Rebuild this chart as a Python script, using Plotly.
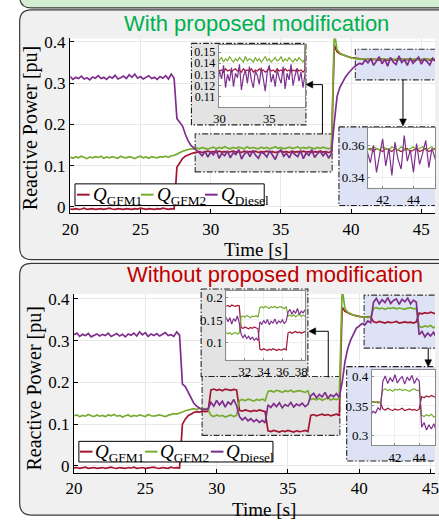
import numpy as np
import plotly.graph_objects as go

# ---------------- data ----------------
t = np.round(np.arange(20.0, 46.0001, 0.2), 1)   # sample times [s]

q_gfm1_with = [
    -0.005, -0.006, -0.004, -0.006, -0.005, -0.003, -0.006, -0.005, -0.004, -0.006,
    -0.005, -0.004, -0.006, -0.005, -0.003, -0.005, -0.006, -0.004, -0.005, -0.006,
    -0.004, -0.005, -0.006, -0.004, -0.005, -0.003, -0.005, -0.006, -0.004, -0.005,
    -0.006, -0.004, -0.005, -0.003, -0.005, -0.006, -0.004, -0.005, 0.096, 0.108,
    0.117, 0.123, 0.127, 0.129, 0.131, 0.132, 0.134, 0.132, 0.133, 0.135,
    0.133, 0.134, 0.132, 0.135, 0.133, 0.134, 0.132, 0.134, 0.135, 0.133,
    0.134, 0.132, 0.135, 0.133, 0.134, 0.133, 0.135, 0.132, 0.134, 0.133,
    0.135, 0.133, 0.134, 0.132, 0.134, 0.135, 0.133, 0.134, 0.132, 0.135,
    0.133, 0.134, 0.132, 0.135, 0.133, 0.134, 0.132, 0.134, 0.133, 0.135,
    0.133, 0.134, 0.132, 0.134, 0.392, 0.376, 0.371, 0.368, 0.366, 0.364,
    0.362, 0.361, 0.360, 0.359, 0.358, 0.357, 0.358, 0.356, 0.358, 0.357,
    0.356, 0.358, 0.357, 0.356, 0.358, 0.357, 0.356, 0.357, 0.358, 0.356,
    0.357, 0.358, 0.356, 0.357, 0.358, 0.356, 0.357, 0.358, 0.356, 0.357,
    0.357]
q_gfm2_with = [
    0.121, 0.118, 0.122, 0.119, 0.123, 0.120, 0.117, 0.121, 0.119, 0.122,
    0.120, 0.123, 0.118, 0.121, 0.119, 0.122, 0.120, 0.118, 0.123, 0.120,
    0.119, 0.122, 0.120, 0.117, 0.121, 0.123, 0.119, 0.121, 0.118, 0.122,
    0.120, 0.119, 0.122, 0.121, 0.123, 0.120, 0.124, 0.125, 0.128, 0.132,
    0.135, 0.137, 0.139, 0.141, 0.140, 0.143, 0.141, 0.144, 0.142, 0.140,
    0.143, 0.145, 0.141, 0.144, 0.142, 0.146, 0.143, 0.141, 0.144, 0.142,
    0.145, 0.143, 0.141, 0.146, 0.142, 0.144, 0.143, 0.141, 0.145, 0.142,
    0.144, 0.141, 0.143, 0.146, 0.142, 0.144, 0.141, 0.143, 0.145, 0.142,
    0.143, 0.146, 0.141, 0.144, 0.142, 0.145, 0.143, 0.141, 0.144, 0.142,
    0.145, 0.143, 0.141, 0.144, 0.425, 0.381, 0.373, 0.369, 0.366, 0.363,
    0.361, 0.360, 0.359, 0.358, 0.359, 0.358, 0.357, 0.359, 0.358, 0.357,
    0.359, 0.358, 0.357, 0.359, 0.358, 0.357, 0.359, 0.358, 0.357, 0.358,
    0.359, 0.357, 0.358, 0.359, 0.357, 0.358, 0.359, 0.357, 0.358, 0.359,
    0.358]
q_diesel_with = [
    0.316, 0.309, 0.314, 0.311, 0.317, 0.310, 0.313, 0.308, 0.315, 0.312,
    0.318, 0.311, 0.314, 0.309, 0.316, 0.312, 0.319, 0.310, 0.313, 0.317,
    0.311, 0.320, 0.314, 0.322, 0.312, 0.316, 0.310, 0.315, 0.318, 0.311,
    0.314, 0.309, 0.316, 0.312, 0.318, 0.310, 0.322, 0.312, 0.214, 0.205,
    0.196, 0.176, 0.160, 0.149, 0.142, 0.137, 0.131, 0.124, 0.135, 0.121,
    0.133, 0.126, 0.138, 0.118, 0.130, 0.124, 0.136, 0.119, 0.131, 0.127,
    0.139, 0.116, 0.128, 0.134, 0.122, 0.137, 0.125, 0.118, 0.133, 0.129,
    0.121, 0.136, 0.126, 0.115, 0.132, 0.138, 0.123, 0.130, 0.119, 0.134,
    0.127, 0.122, 0.137, 0.117, 0.131, 0.125, 0.139, 0.120, 0.129, 0.135,
    0.124, 0.132, 0.118, 0.130, 0.205, 0.268, 0.290, 0.303, 0.315, 0.324,
    0.332, 0.339, 0.344, 0.348, 0.346, 0.356, 0.349, 0.360, 0.343, 0.354,
    0.364, 0.347, 0.358, 0.341, 0.362, 0.351, 0.345, 0.366, 0.350, 0.357,
    0.343, 0.361, 0.348, 0.355, 0.363, 0.346, 0.358, 0.352, 0.344, 0.360,
    0.353]

q_gfm1_without = [
    -0.005, -0.004, -0.006, -0.005, -0.003, -0.006, -0.005, -0.004, -0.006, -0.005,
    -0.004, -0.006, -0.005, -0.003, -0.005, -0.006, -0.004, -0.005, -0.006, -0.004,
    -0.005, -0.003, -0.006, -0.005, -0.004, -0.006, -0.005, -0.004, -0.003, -0.005,
    -0.006, -0.004, -0.005, -0.006, -0.003, -0.005, -0.004, -0.005, 0.100, 0.112,
    0.120, 0.125, 0.128, 0.130, 0.129, 0.131, 0.130, 0.131, 0.182, 0.184,
    0.181, 0.183, 0.180, 0.184, 0.182, 0.181, 0.183, 0.182, 0.133, 0.131,
    0.134, 0.132, 0.130, 0.133, 0.131, 0.134, 0.132, 0.130, 0.084, 0.082,
    0.085, 0.083, 0.081, 0.084, 0.082, 0.085, 0.083, 0.081, 0.084, 0.082,
    0.083, 0.085, 0.082, 0.121, 0.123, 0.120, 0.122, 0.124, 0.121, 0.123,
    0.120, 0.122, 0.124, 0.121, 0.380, 0.370, 0.366, 0.363, 0.361, 0.359,
    0.358, 0.357, 0.356, 0.357, 0.356, 0.345, 0.343, 0.346, 0.344, 0.342,
    0.345, 0.343, 0.344, 0.346, 0.342, 0.344, 0.345, 0.343, 0.344, 0.342,
    0.345, 0.366, 0.364, 0.367, 0.365, 0.368, 0.366, 0.364, 0.367, 0.365,
    0.366]
q_gfm2_without = [
    0.120, 0.122, 0.118, 0.121, 0.119, 0.123, 0.120, 0.118, 0.122, 0.119,
    0.121, 0.118, 0.122, 0.120, 0.123, 0.119, 0.121, 0.117, 0.120, 0.122,
    0.118, 0.121, 0.119, 0.122, 0.120, 0.118, 0.123, 0.120, 0.119, 0.121,
    0.122, 0.120, 0.118, 0.121, 0.123, 0.125, 0.124, 0.126, 0.129, 0.132,
    0.134, 0.136, 0.137, 0.135, 0.138, 0.136, 0.137, 0.135, 0.121, 0.118,
    0.122, 0.119, 0.121, 0.117, 0.120, 0.122, 0.118, 0.121, 0.157, 0.159,
    0.156, 0.160, 0.158, 0.155, 0.159, 0.157, 0.160, 0.156, 0.178, 0.180,
    0.177, 0.181, 0.179, 0.176, 0.180, 0.178, 0.181, 0.177, 0.179, 0.180,
    0.178, 0.176, 0.180, 0.159, 0.161, 0.158, 0.162, 0.157, 0.160, 0.163,
    0.158, 0.161, 0.159, 0.162, 0.425, 0.376, 0.368, 0.364, 0.361, 0.359,
    0.357, 0.356, 0.357, 0.355, 0.356, 0.377, 0.379, 0.376, 0.378, 0.375,
    0.378, 0.377, 0.379, 0.376, 0.378, 0.377, 0.375, 0.378, 0.379, 0.376,
    0.377, 0.334, 0.332, 0.335, 0.333, 0.336, 0.331, 0.334, 0.335, 0.332,
    0.334]
q_diesel_without = [
    0.314, 0.318, 0.310, 0.315, 0.312, 0.317, 0.309, 0.313, 0.316, 0.311,
    0.315, 0.312, 0.318, 0.310, 0.314, 0.317, 0.311, 0.315, 0.309, 0.316,
    0.313, 0.318, 0.311, 0.321, 0.314, 0.319, 0.310, 0.316, 0.312, 0.317,
    0.311, 0.315, 0.319, 0.312, 0.314, 0.310, 0.321, 0.313, 0.196, 0.190,
    0.176, 0.160, 0.150, 0.143, 0.138, 0.136, 0.135, 0.137, 0.152, 0.143,
    0.157, 0.146, 0.155, 0.141, 0.153, 0.147, 0.159, 0.144, 0.118, 0.110,
    0.116, 0.108, 0.113, 0.106, 0.111, 0.104, 0.109, 0.103, 0.146, 0.140,
    0.149, 0.142, 0.151, 0.139, 0.147, 0.143, 0.152, 0.141, 0.148, 0.144,
    0.150, 0.142, 0.147, 0.168, 0.174, 0.163, 0.171, 0.165, 0.176, 0.162,
    0.170, 0.166, 0.173, 0.164, 0.200, 0.250, 0.282, 0.302, 0.316, 0.330,
    0.335, 0.341, 0.338, 0.347, 0.343, 0.392, 0.401, 0.388, 0.398, 0.391,
    0.403, 0.389, 0.396, 0.400, 0.387, 0.399, 0.393, 0.402, 0.388, 0.397,
    0.392, 0.314, 0.322, 0.309, 0.318, 0.311, 0.320, 0.308, 0.316, 0.312,
    0.319]

series_labels = ["<i>Q</i><sub>GFM1</sub>", "<i>Q</i><sub>GFM2</sub>", "<i>Q</i><sub>Diesel</sub>"]
panel_titles = ["With proposed modification", "Without proposed modification"]
x_ticks_main = [20, 25, 30, 35, 40, 45]
y_ticks_main = [0, 0.1, 0.2, 0.3, 0.4]
y_ticktext_main = ["0", "0.1", "0.2", "0.3", "0.4"]
inset_t1_xt = [30, 35]
inset_t1_yt = [0.11, 0.12, 0.13, 0.14, 0.15]
inset_t2_xt = [42, 44]
inset_t2_yt = [0.34, 0.36]
inset_b1_xt = [32, 34, 36, 38]
inset_b1_yt = [0.1, 0.15, 0.2]
inset_b2_xt = [42, 44]
inset_b2_yt = [0.3, 0.35, 0.4]

# ---------------- styling ----------------
W, H = 439, 520
COLORS = ["#a2142f", "#77ac30", "#7e2f8e"]
SERIF = "Liberation Serif"
SANS = "Liberation Sans"
DASHDOT = "6px,2px,1.5px,2px"


def px(x):
    return x / W


def py(y):
    return 1 - y / H


layout = dict(
    width=W, height=H, margin=dict(l=0, r=0, t=0, b=0, pad=0),
    paper_bgcolor="white", plot_bgcolor="rgba(0,0,0,0)",
    showlegend=False, shapes=[], annotations=[],
)


def ax_names(n):
    return ("xaxis" if n == 1 else f"xaxis{n}", "yaxis" if n == 1 else f"yaxis{n}",
            "x" if n == 1 else f"x{n}", "y" if n == 1 else f"y{n}")


def add_axes(n, xpx, ypx, xr, yr, xa_kw, ya_kw):
    xa, ya, xn, yn = ax_names(n)
    layout[xa] = dict(domain=[max(px(xpx[0]), 0), min(px(xpx[1]), 1)], range=xr,
                      anchor=yn, **xa_kw)
    layout[ya] = dict(domain=[py(ypx[1]), py(ypx[0])], range=yr, anchor=xn, **ya_kw)


main_common = dict(showline=True, linecolor="black", linewidth=1.3, ticks="inside",
                   ticklen=4, tickcolor="black", showgrid=True, gridcolor="#e9e9e9",
                   zeroline=False, tickfont=dict(family=SERIF, size=17, color="black"),
                   ticklabeloverflow="allow")


def inset_style(size=13):
    return dict(showline=True, mirror=True, linecolor="#8a8a8a", linewidth=1,
                ticks="inside", ticklen=2, tickcolor="#8a8a8a", showgrid=True,
                gridcolor="#eeeeee", zeroline=False,
                tickfont=dict(family=SERIF, size=size, color="black"),
                ticklabeloverflow="allow")


box_common = dict(visible=False, fixedrange=True)

# main axes
add_axes(1, (63, W), (33, 211), [20, 45.97], [-0.0155, 0.4083],
         dict(main_common, tickvals=x_ticks_main),
         dict(main_common, tickvals=y_ticks_main, ticktext=y_ticktext_main))
add_axes(2, (67, W), (293, 475), [20, 45.31], [-0.0165, 0.4118],
         dict(main_common, tickvals=x_ticks_main),
         dict(main_common, tickvals=y_ticks_main, ticktext=y_ticktext_main))

traces = []


def add_box(n, x0, y0, x1, y1, fill, inner, pad=2):
    xr = [x0 - pad, min(x1 + pad, W)]
    add_axes(n, (x0 - pad, x1 + pad), (y0 - pad, y1 + pad), xr, [y1 + pad, y0 - pad],
             box_common, box_common)
    xn, yn = ax_names(n)[2:]
    rx, ry = [x0, x1, x1, x0, x0], [y0, y0, y1, y1, y0]
    traces.append(go.Scatter(x=rx, y=ry, mode="lines", fill="toself", fillcolor=fill,
                             line=dict(width=0), xaxis=xn, yaxis=yn, hoverinfo="skip"))
    ix0, iy0, ix1, iy1 = inner
    traces.append(go.Scatter(x=[ix0, ix1, ix1, ix0, ix0], y=[iy0, iy0, iy1, iy1, iy0],
                             mode="lines", fill="toself", fillcolor="white",
                             line=dict(width=0), xaxis=xn, yaxis=yn, hoverinfo="skip"))
    traces.append(go.Scatter(x=rx, y=ry, mode="lines",
                             line=dict(color="#222222", width=1.1, dash=DASHDOT),
                             xaxis=xn, yaxis=yn, hoverinfo="skip"))


def add_series(xn, yn, data, width):
    for vals, col in zip(data, COLORS):
        traces.append(go.Scatter(x=t, y=vals, mode="lines", line=dict(color=col, width=width),
                                 xaxis=xn, yaxis=yn, hoverinfo="skip"))


with_data = [q_gfm1_with, q_gfm2_with, q_diesel_with]
without_data = [q_gfm1_without, q_gfm2_without, q_diesel_without]

add_series("x", "y", with_data, 1.7)
add_series("x2", "y2", without_data, 1.7)

GRAY, BLUE = "#e3e3e3", "#dde3f4"

# top inset 1
add_box(3, 188, 38, 306, 121, GRAY, (216, 40, 305, 103))
add_axes(4, (216, 305), (40, 103), [29.9, 38.6], [0.1006, 0.156],
         dict(inset_style(12.5), tickvals=inset_t1_xt),
         dict(inset_style(12), tickvals=inset_t1_yt))
add_series("x4", "y4", with_data, 1.2)
# top inset 2
add_box(5, 340, 123, 445, 203, BLUE, (370, 124, 445, 185))
add_axes(6, (370, W), (124, 185), [41.05, 45.4], [0.3333, 0.3709],
         dict(inset_style(), tickvals=inset_t2_xt), dict(inset_style(), tickvals=inset_t2_yt))
add_series("x6", "y6", with_data, 1.2)
# bottom inset 1
add_box(7, 198, 288, 308, 377, GRAY, (224, 290, 305, 360))
add_axes(8, (224, 305), (290, 360), [30.03, 38.4], [0.06, 0.2156],
         dict(inset_style(), tickvals=inset_b1_xt), dict(inset_style(), tickvals=inset_b1_yt))
add_series("x8", "y8", without_data, 1.2)
# bottom inset 2
add_box(9, 348, 367, 445, 463, BLUE, (374, 370, 445, 447))
add_axes(10, (374, W), (370, 447), [40.1, 45.3], [0.2833, 0.4117],
         dict(inset_style(), tickvals=inset_b2_xt), dict(inset_style(), tickvals=inset_b2_yt))
add_series("x10", "y10", without_data, 1.2)

shapes = layout["shapes"]
ann = layout["annotations"]


def rounded_panel(x0, y0, x1, y1, r, fill):
    path = (f"M {px(x1)},{py(y0)} L {px(x0 + r)},{py(y0)} "
            f"Q {px(x0)},{py(y0)} {px(x0)},{py(y0 + r)} "
            f"L {px(x0)},{py(y1 - r)} Q {px(x0)},{py(y1)} {px(x0 + r)},{py(y1)} "
            f"L {px(x1)},{py(y1)} Z")
    shapes.append(dict(type="path", xref="paper", yref="paper", path=path, fillcolor=fill,
                       line=dict(color="#3a3a3a", width=1.2), layer="below"))


# previous (green) panel edge, then the two gray panels
rounded_panel(11, -30, 450, 2, 12, "#d3eed3")
rounded_panel(11, 4, 450, 258, 12, "#f0f0f0")
rounded_panel(11, 262, 450, 518, 12, "#f0f0f0")
# white plot areas of the main axes
for (x0, y0, x1, y1) in [(63, 33, W, 211), (67, 293, W, 475)]:
    shapes.append(dict(type="rect", xref="paper", yref="paper", x0=px(x0), x1=px(x1),
                       y0=py(y1), y1=py(y0), fillcolor="white", line=dict(width=0),
                       layer="below"))

# zoom regions inside the main axes (data coordinates)
for (xr, yr, x0, x1, y0, y1, fill) in [
        ("x", "y", 28.9, 38.65, 0.085, 0.177, GRAY),
        ("x", "y", 40.3, 47.0, 0.308, 0.382, BLUE),
        ("x2", "y2", 28.98, 38.64, 0.073, 0.214, GRAY),
        ("x2", "y2", 40.34, 47.0, 0.282, 0.409, BLUE)]:
    shapes.append(dict(type="rect", xref=xr, yref=yr, x0=x0, x1=x1, y0=y0, y1=y1,
                       fillcolor=fill, line=dict(color="#333333", width=1.1, dash=DASHDOT),
                       layer="between"))


def poly(points, closed=False):
    s = "M " + " L ".join(f"{px(x)},{py(y)}" for x, y in points)
    return s + (" Z" if closed else "")


# connector lines with arrow heads
for pts, head in [
        ([(323, 130), (323, 80), (311, 80)], [(306, 80), (313, 76.5), (313, 83.5)]),
        ([(406, 75), (406, 116)], [(406, 122), (402.5, 115), (409.5, 115)]),
        ([(329, 378), (329, 331), (314, 331)], [(309, 331), (316, 327.5), (316, 334.5)]),
        ([(432, 348), (432, 361)], [(432, 367), (428.5, 360), (435.5, 360)])]:
    shapes.append(dict(type="path", xref="paper", yref="paper", path=poly(pts),
                       line=dict(color="black", width=1), layer="above"))
    shapes.append(dict(type="path", xref="paper", yref="paper", path=poly(head, True),
                       fillcolor="black", line=dict(color="black", width=0.5), layer="above"))


# manual legends
def legend(box, line_x, text_x, yc):
    x0, y0, x1, y1 = box
    shapes.append(dict(type="rect", xref="paper", yref="paper", x0=px(x0), x1=px(x1),
                       y0=py(y1), y1=py(y0), fillcolor="white",
                       line=dict(color="black", width=1), layer="above"))
    for lx, tx, col, lab in zip(line_x, text_x, COLORS, series_labels):
        shapes.append(dict(type="line", xref="paper", yref="paper", x0=px(lx), x1=px(lx + 13),
                           y0=py(yc), y1=py(yc), line=dict(color=col, width=2), layer="above"))
        ann.append(dict(x=px(tx), y=py(yc + 1), xref="paper", yref="paper", text=lab,
                        showarrow=False, xanchor="left", yanchor="middle",
                        font=dict(family=SERIF, size=19, color="black")))


legend((68, 181, 263, 203), [70, 136, 202], [84, 150, 216], 192)
legend((72, 443, 272, 464), [73, 140, 208], [87, 154, 222], 453.5)

# titles and axis labels
ann.append(dict(x=px(255), y=py(18), xref="paper", yref="paper", text=panel_titles[0],
                showarrow=False, xanchor="center", yanchor="middle",
                font=dict(family=SANS, size=22, color="#00b050")))
ann.append(dict(x=px(274), y=py(273), xref="paper", yref="paper", text=panel_titles[1],
                showarrow=False, xanchor="center", yanchor="middle",
                font=dict(family=SANS, size=22, color="#c00000")))
for (x, y) in [(23, 124), (26, 389)]:
    ann.append(dict(x=px(x), y=py(y), xref="paper", yref="paper", text="Reactive Power [pu]",
                    showarrow=False, textangle=-90, xanchor="center", yanchor="middle",
                    font=dict(family=SERIF, size=20, color="black")))
for (x, y) in [(255, 248), (263, 512)]:
    ann.append(dict(x=px(x), y=py(y), xref="paper", yref="paper", text="Time [s]",
                    showarrow=False, xanchor="center", yanchor="middle",
                    font=dict(family=SERIF, size=19, color="black")))

fig = go.Figure(data=traces, layout=layout)
fig.write_html("out.html", config={"displayModeBar": False},
               post_script="document.body.style.margin='0';document.body.style.overflow='hidden';")
